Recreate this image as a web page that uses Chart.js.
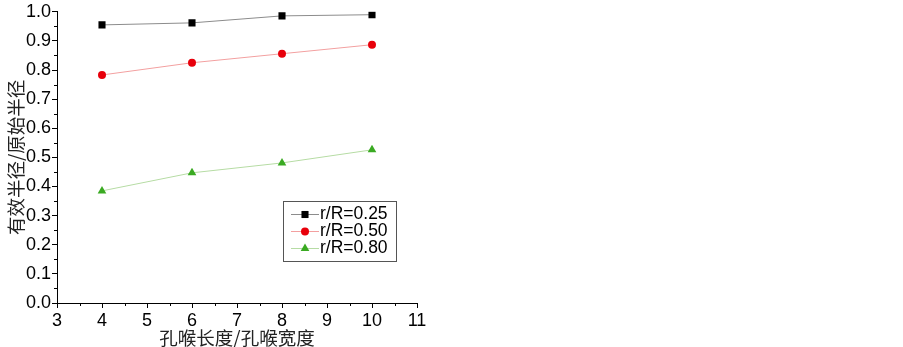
<!DOCTYPE html>
<html>
<head>
<meta charset="utf-8">
<script src="https://cdn.jsdelivr.net/npm/chart.js@4/dist/chart.umd.min.js"></script>
<style>
html,body{margin:0;padding:0;background:#fff;}
#wrap{width:903px;height:347px;position:relative;}
</style>
</head>
<body>
<div id="wrap"><canvas id="c"></canvas></div>
<script>
const xValues = [4, 6, 8, 10];
const series025 = [0.955, 0.962, 0.986, 0.990];
const series050 = [0.783, 0.825, 0.856, 0.887];
const series080 = [0.385, 0.447, 0.481, 0.526];
const seriesLabels = ['r/R=0.25', 'r/R=0.50', 'r/R=0.80'];
const xTitle = '孔喉长度/孔喉宽度';
const yTitle = '有效半径/原始半径';

const pts = (arr) => xValues.map((x, i) => ({x: x, y: arr[i]}));

const minorTicks = {
  id: 'minorTicks',
  afterDraw(chart) {
    const ctx = chart.ctx;
    const xs = chart.scales.x, ys = chart.scales.y;
    ctx.save();
    ctx.strokeStyle = '#000';
    ctx.lineWidth = 1;
    ctx.beginPath();
    for (let v = 3.5; v < 11; v += 1) {
      const px = Math.round(xs.getPixelForValue(v)) + 0.5;
      ctx.moveTo(px, xs.top);
      ctx.lineTo(px, xs.top + 3);
    }
    for (let v = 0.05; v < 1; v += 0.1) {
      const py = Math.round(ys.getPixelForValue(v)) + 0.5;
      ctx.moveTo(ys.right, py);
      ctx.lineTo(ys.right - 3, py);
    }
    ctx.stroke();
    ctx.restore();
  }
};

const boxLegend = {
  id: 'boxLegend',
  afterDraw(chart) {
    const ctx = chart.ctx;
    const x0 = 283.5, y0 = 201.5, w = 113, h = 60;
    ctx.save();
    ctx.strokeStyle = '#555';
    ctx.lineWidth = 1;
    ctx.fillStyle = '#fff';
    ctx.fillRect(x0, y0, w, h);
    ctx.strokeRect(x0, y0, w, h);
    ctx.font = '17.5px "Liberation Sans", Arial, sans-serif';
    ctx.textBaseline = 'middle';
    chart.data.datasets.forEach((ds, i) => {
      const cy = 213.5 + i * 17;
      ctx.strokeStyle = ds.borderColor;
      ctx.lineWidth = 1;
      ctx.beginPath();
      ctx.moveTo(291, Math.round(cy) + 0.5);
      ctx.lineTo(319, Math.round(cy) + 0.5);
      ctx.stroke();
      ctx.fillStyle = ds.pointBackgroundColor;
      ctx.strokeStyle = ds.pointBackgroundColor;
      Chart.helpers.drawPoint(ctx, {pointStyle: ds.pointStyle, radius: ds.pointRadius, borderWidth: 0, rotation: 0}, 305, Math.round(cy) + 0.5);
      ctx.fillStyle = '#000';
      ctx.fillText(ds.label, 320, cy + 1);
    });
    ctx.restore();
  }
};

new Chart(document.getElementById('c'), {
  type: 'scatter',
  data: {
    datasets: [
      {label: seriesLabels[0], data: pts(series025), showLine: true, borderColor: '#8c8c8c', borderWidth: 1,
       pointStyle: 'rect', pointRadius: 5, pointBackgroundColor: '#000', pointBorderColor: '#000', pointBorderWidth: 0},
      {label: seriesLabels[1], data: pts(series050), showLine: true, borderColor: '#f3a0a0', borderWidth: 1,
       pointStyle: 'circle', pointRadius: 4, pointBackgroundColor: '#e8000b', pointBorderColor: '#e8000b', pointBorderWidth: 0},
      {label: seriesLabels[2], data: pts(series080), showLine: true, borderColor: '#b6dca4', borderWidth: 1,
       pointStyle: 'triangle', pointRadius: 5, pointBackgroundColor: '#3aaa22', pointBorderColor: '#3aaa22', pointBorderWidth: 0}
    ]
  },
  options: {
    responsive: true,
    maintainAspectRatio: false,
    animation: false,
    layout: {padding: {left: 0, right: 486, top: 11, bottom: 0}},
    plugins: {legend: {display: false}, tooltip: {enabled: false}},
    scales: {
      x: {
        type: 'linear', min: 3, max: 11,
        ticks: {stepSize: 1, color: '#000', padding: 2, font: {family: '"Liberation Sans", Arial, sans-serif', size: 18},
          callback: (v) => String(v)},
        grid: {drawOnChartArea: false, tickLength: 5, color: '#000', tickColor: '#000'},
        border: {color: '#000', width: 1},
        title: {display: true, text: xTitle, color: '#222', padding: {top: 0, bottom: 0},
          font: {family: '"Noto Sans CJK SC", sans-serif', size: 18.5, lineHeight: 1}},
        afterFit: (s) => { s.height = 44; }
      },
      y: {
        type: 'linear', min: 0, max: 1,
        ticks: {stepSize: 0.1, color: '#000', padding: 1, font: {family: '"Liberation Sans", Arial, sans-serif', size: 18},
          callback: (v) => Number(v).toFixed(1)},
        grid: {drawOnChartArea: false, tickLength: 5, color: '#000', tickColor: '#000'},
        border: {color: '#000', width: 1},
        title: {display: true, text: yTitle, color: '#222', padding: {top: 5, bottom: 0},
          font: {family: '"Noto Sans CJK SC", sans-serif', size: 18.5}},
        afterFit: (s) => { s.width = 57; }
      }
    }
  },
  plugins: [minorTicks, boxLegend]
});
</script>
</body>
</html>
